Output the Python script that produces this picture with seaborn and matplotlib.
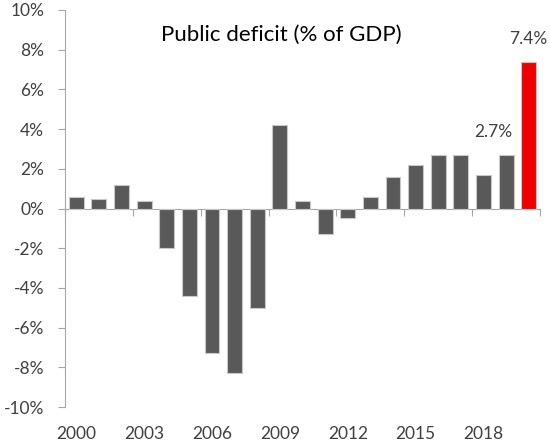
import matplotlib
matplotlib.use("Agg")
import matplotlib.pyplot as plt
import seaborn as sns
import pandas as pd
from matplotlib.ticker import FixedLocator, FuncFormatter

years = [str(y) for y in range(2000, 2021)]
values = [0.6, 0.5, 1.2, 0.4, -2.0, -4.4, -7.3, -8.3, -5.0, 4.2,
          0.4, -1.3, -0.5, 0.6, 1.6, 2.2, 2.7, 2.7, 1.7, 2.7, 7.4]
label_years = ["2000", "2003", "2006", "2009", "2012", "2015", "2018"]
annot_years = ["2019", "2020"]
title = "Public deficit (% of GDP)"

gray = "#595959"
red = "#EE0000"
colors = [gray] * (len(years) - 1) + [red]

sns.set_theme(style="white")
plt.rcParams["font.family"] = ["Lato", "DejaVu Sans"]

df = pd.DataFrame({"year": years, "value": values})

fig = plt.figure(figsize=(5.5, 4.46), dpi=100)
ax = fig.add_axes([65/550, 1 - 407/446, 475/550, 397/446])

sns.barplot(data=df, x="year", y="value", hue="year", palette=colors,
            legend=False, width=0.66, edgecolor="#c8c8c8", linewidth=0.8,
            saturation=1, ax=ax)

ax.set_xlim(-0.5, len(years) - 0.5)
ax.set_ylim(-10, 10)
ax.set_xlabel("")
ax.set_ylabel("")

axis_col = "#a6a6a6"
txt_col = "#404040"

# y axis
ax.yaxis.set_major_locator(FixedLocator(range(-10, 11, 2)))
ax.yaxis.set_major_formatter(FuncFormatter(lambda v, p: f"{int(v)}%"))
ax.tick_params(axis="y", length=5, width=0.8, color=axis_col, pad=10,
               labelsize=12.5, labelcolor=txt_col, left=True)
for s in ["top", "right"]:
    ax.spines[s].set_visible(False)
ax.spines["left"].set_color(axis_col)
ax.spines["left"].set_linewidth(0.8)

# x axis line at zero with boundary ticks
ax.spines["bottom"].set_position(("data", 0))
ax.spines["bottom"].set_color(axis_col)
ax.spines["bottom"].set_linewidth(0.8)
ax.spines["bottom"].set_zorder(0.5)
ax.xaxis.set_major_locator(FixedLocator([i - 0.5 for i in range(0, len(years) + 1, 3)]))
ax.tick_params(axis="x", bottom=True, length=5, width=0.8, color=axis_col,
               labelbottom=False)

# labels at the bottom
sec = ax.secondary_xaxis("bottom")
pos = [years.index(y) for y in label_years]
sec.set_xticks(pos)
sec.set_xticklabels(label_years)
sec.tick_params(length=0, pad=14, labelsize=12.5, labelcolor=txt_col)
sec.spines["bottom"].set_visible(False)

# annotations
for y, dx in zip(annot_years, [-13, 0]):
    i = years.index(y)
    ax.annotate(f"{values[i]:.1f}%", xy=(i, values[i]), xytext=(dx, 23),
                textcoords="offset pixels", ha="center", va="center",
                fontsize=12.5, color=txt_col)

ax.text(0.455, 0.937, title, transform=ax.transAxes, ha="center", va="center",
        fontsize=16, color="black")

fig.savefig("out.png", dpi=100)
